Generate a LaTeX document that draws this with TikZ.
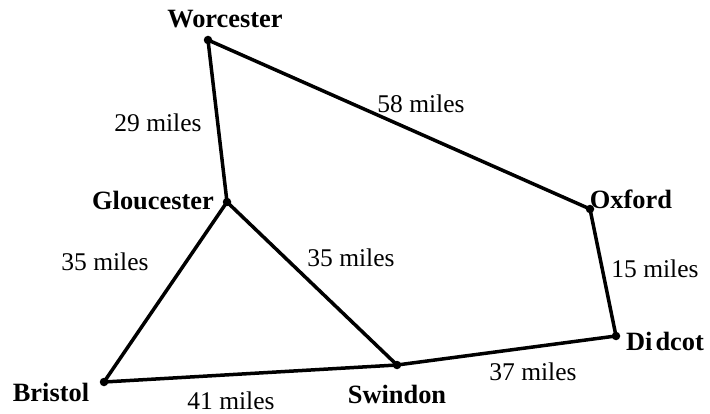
\documentclass[tikz,border=0pt]{standalone}
\usepackage{fontspec}
\setmainfont{Liberation Serif}
\begin{document}
\begin{tikzpicture}[x=1pt,y=-1pt,
  road/.style={line width=3.5pt,line cap=round,line join=round},
  town/.style={font=\fontsize{26.4}{30}\selectfont\bfseries,inner sep=0pt},
  dist/.style={font=\fontsize{25.5}{30}\selectfont,inner sep=0pt},
  dot/.style={circle,fill=black,inner sep=0pt,minimum size=8.5pt}]
\useasboundingbox (0,0) rectangle (710,414);
\node[dot] (wor) at (208,40) {};
\node[dot] (glo) at (227,202) {};
\node[dot] (oxf) at (590,209) {};
\node[dot] (did) at (616,336) {};
\node[dot] (swi) at (397,365) {};
\node[dot] (bri) at (104,382) {};
\draw[road] (wor.center) -- (glo.center) -- (bri.center) -- (swi.center) -- (did.center) -- (oxf.center) -- (wor.center);
\draw[road] (glo.center) -- (swi.center);
\node[town] (lwor) at (225,19) {Worcester};
\node[town] (lglo) at (153,201) {Gloucester};
\node[town] (loxf) at (631,199) {Oxford};
\node[town] (ldid) at (665,341) {Di\hspace{0.12em}dcot};
\node[town] (lswi) at (397,394) {Swindon};
\node[town] (lbri) at (51,392) {Bristol};
\node[dist] (d1) at (158,123) {29 miles};
\node[dist] (d2) at (421,104) {58 miles};
\node[dist] (d3) at (105,262) {35 miles};
\node[dist] (d4) at (351,258) {35 miles};
\node[dist] (d5) at (655,269) {15 miles};
\node[dist] (d6) at (533,372) {37 miles};
\node[dist] (d7) at (231,400.5) {41 miles};
\end{tikzpicture}
\end{document}
